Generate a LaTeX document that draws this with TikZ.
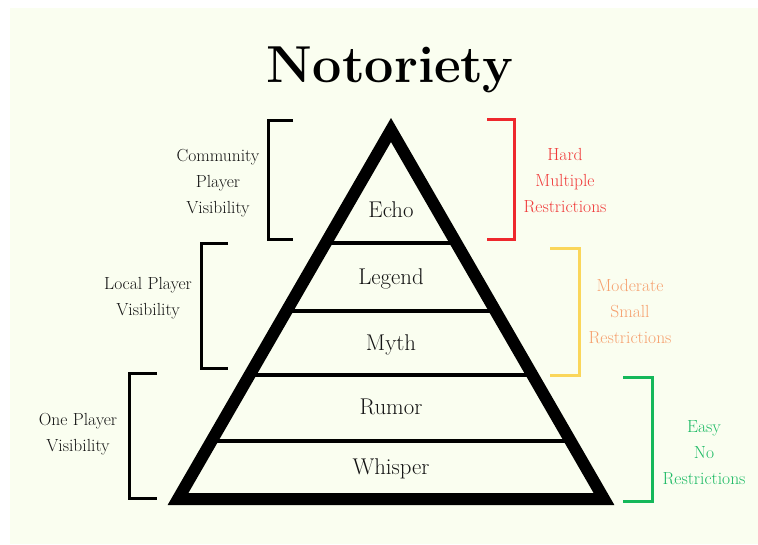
\documentclass[tikz,border=0pt]{standalone}
\begin{document}
\definecolor{bgc}{RGB}{250,254,240}
\definecolor{hardc}{RGB}{240,58,58}
\definecolor{hardb}{RGB}{238,40,45}
\definecolor{modc}{RGB}{246,160,110}
\definecolor{modb}{RGB}{250,214,90}
\definecolor{easyc}{RGB}{28,186,100}
\definecolor{easyb}{RGB}{20,184,90}
\definecolor{txt}{RGB}{20,20,20}
\begin{tikzpicture}[x=1pt,y=-1pt,
  side/.style={font=\fontsize{17.5}{26}\selectfont, align=center, inner sep=0pt, anchor=base, text=txt},
  layer/.style={font=\fontsize{22.8}{26}\selectfont, inner sep=0pt, anchor=base, text=txt},
  brk/.style={line width=3pt, line cap=butt, line join=miter},
  divider/.style={line width=3.5pt},
]
\useasboundingbox (0,0) rectangle (758,544);
\fill[bgc] (10,8) rectangle (758,544);

% title
\node[font=\bfseries\fontsize{52}{60}\selectfont, inner sep=0pt, anchor=base] (title) at (390,82) {Notoriety};

% pyramid
\coordinate (A) at (391,130);
\coordinate (BL) at (178,499);
\coordinate (BR) at (604,499);
\coordinate (d1l) at (325.8,243); \coordinate (d1r) at (456.2,243);
\coordinate (d2l) at (286.5,311); \coordinate (d2r) at (495.5,311);
\coordinate (d3l) at (249.5,375); \coordinate (d3r) at (532.5,375);
\coordinate (d4l) at (211.4,441); \coordinate (d4r) at (570.6,441);
\draw[divider] (d1l) -- (d1r);
\draw[divider] (d2l) -- (d2r);
\draw[divider] (d3l) -- (d3r);
\draw[divider] (d4l) -- (d4r);
\draw[line width=12pt, line join=miter] (A) -- (BL) -- (BR) -- cycle;

% layer labels
\node[layer] (echo) at (391,217) {Echo};
\node[layer] (legend) at (391,284) {Legend};
\node[layer] (myth) at (391,350) {Myth};
\node[layer] (rumor) at (391,414) {Rumor};
\node[layer] (whisper) at (391,474) {Whisper};

% left brackets
\coordinate (l1a) at (293,120); \coordinate (l1b) at (268,120);
\coordinate (l1c) at (268,239); \coordinate (l1d) at (293,239);
\draw[brk] (l1a) -- (l1b) -- (l1c) -- (l1d);
\coordinate (l2a) at (228,243); \coordinate (l2b) at (201,243);
\coordinate (l2c) at (201,368); \coordinate (l2d) at (228,368);
\draw[brk] (l2a) -- (l2b) -- (l2c) -- (l2d);
\coordinate (l3a) at (157,373); \coordinate (l3b) at (129,373);
\coordinate (l3c) at (129,498); \coordinate (l3d) at (157,498);
\draw[brk] (l3a) -- (l3b) -- (l3c) -- (l3d);

% right brackets
\coordinate (r1a) at (487,119); \coordinate (r1b) at (514,119);
\coordinate (r1c) at (514,239); \coordinate (r1d) at (487,239);
\draw[brk, hardb] (r1a) -- (r1b) -- (r1c) -- (r1d);
\coordinate (r2a) at (550,248); \coordinate (r2b) at (579,248);
\coordinate (r2c) at (579,375); \coordinate (r2d) at (550,375);
\draw[brk, modb] (r2a) -- (r2b) -- (r2c) -- (r2d);
\coordinate (r3a) at (623,377); \coordinate (r3b) at (652,377);
\coordinate (r3c) at (652,501); \coordinate (r3d) at (623,501);
\draw[brk, easyb] (r3a) -- (r3b) -- (r3c) -- (r3d);

% side labels (base anchor = baseline of last line)
\node[side] (community) at (218,213) {Community\\Player\\Visibility};
\node[side] (local) at (148,315) {Local Player\\Visibility};
\node[side] (one) at (78,451) {One Player\\Visibility};
\node[side, text=hardc] (hard) at (565,212) {Hard\\Multiple\\Restrictions};
\node[side, text=modc] (moderate) at (630,343) {Moderate\\Small\\Restrictions};
\node[side, text=easyc] (easy) at (704,484) {Easy\\No\\Restrictions};
\end{tikzpicture}
\end{document}
